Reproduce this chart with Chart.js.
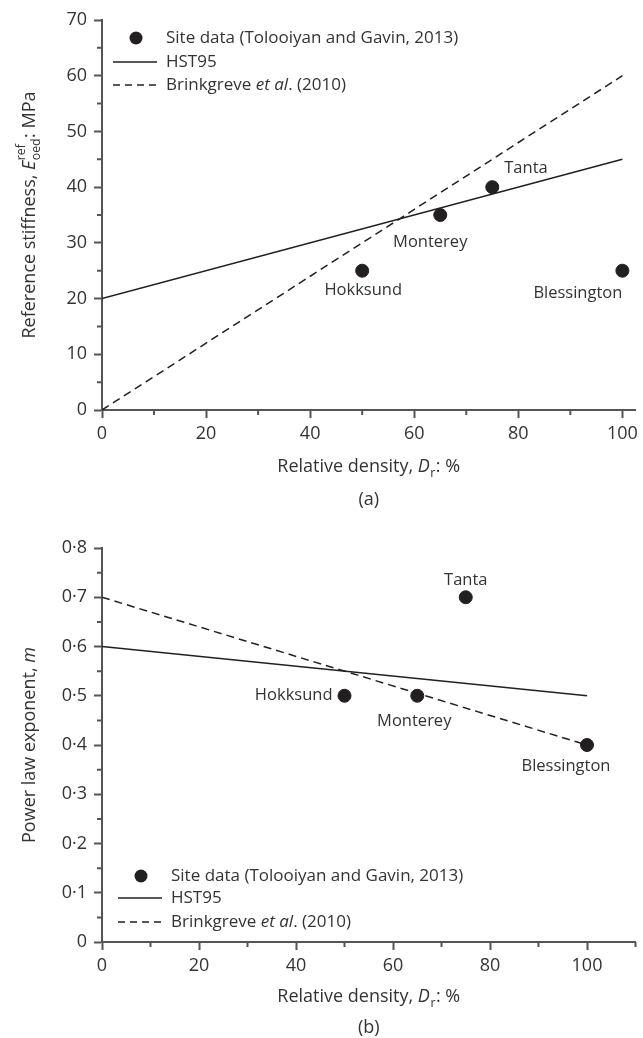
<!DOCTYPE html>
<html>
<head>
<meta charset="utf-8">
<script src="https://cdn.jsdelivr.net/npm/chart.js@4"></script>
<style>
body { margin: 0; background: #fff; }
canvas { display: block; }
</style>
</head>
<body>
<canvas id="chartA" width="643" height="520"></canvas>
<canvas id="chartB" width="643" height="518"></canvas>
<script>
// site data (Tolooiyan and Gavin, 2013)
var sites = ['Hokksund', 'Monterey', 'Tanta', 'Blessington'];
var siteDr = [50, 65, 75, 100];
var siteEref = [25, 35, 40, 25];
var siteM = [0.5, 0.5, 0.7, 0.4];
// model lines
var lineDr = [0, 100];
var hstEref = [20, 45];
var brinkEref = [0, 60];
var hstM = [0.6, 0.5];
var brinkM = [0.7, 0.4];

var FONT = '"Open Sans", sans-serif';
var TEXT = '#333';
var AXIS = '#555';
var INK = '#231f20';

function pts(xs, ys) {
    return xs.map(function (x, i) { return { x: x, y: ys[i] }; });
}

function fmtDot(v) {
    return v === 0 ? '0' : v.toFixed(1).replace('.', '·');
}

function fontStr(size, italic) {
    return (italic ? 'italic ' : '') + size + 'px ' + FONT;
}

// rich text: parts are {t, it} or {sub} or {sup, sub}
function partWidth(ctx, p, size) {
    if (p.t !== undefined) {
        ctx.font = fontStr(size, p.it);
        return ctx.measureText(p.t).width;
    }
    ctx.font = fontStr(size * 0.68, false);
    var w1 = p.sup ? ctx.measureText(p.sup).width : 0;
    var w2 = p.sub ? ctx.measureText(p.sub).width : 0;
    return Math.max(w1, w2) + 1;
}

function drawRich(ctx, parts, x, y, size, align) {
    var total = 0;
    parts.forEach(function (p) { total += partWidth(ctx, p, size); });
    var cx = align === 'center' ? x - total / 2 : (align === 'right' ? x - total : x);
    ctx.fillStyle = TEXT;
    ctx.textBaseline = 'middle';
    ctx.textAlign = 'left';
    parts.forEach(function (p) {
        var w = partWidth(ctx, p, size);
        if (p.t !== undefined) {
            ctx.font = fontStr(size, p.it);
            ctx.fillText(p.t, cx, y);
        } else {
            ctx.font = fontStr(size * 0.68, false);
            if (p.sup) ctx.fillText(p.sup, cx + 0.5, y - size * 0.45);
            if (p.sub) ctx.fillText(p.sub, cx + 0.5, y + size * 0.35);
        }
        cx += w;
    });
}

function figurePlugin(cfg) {
    return {
        id: 'figure',
        afterDraw: function (chart) {
            var ctx = chart.ctx;
            var area = chart.chartArea;
            var xs = chart.scales.x, ys = chart.scales.y;
            ctx.save();

            // minor ticks
            ctx.strokeStyle = AXIS;
            ctx.lineWidth = 2;
            ctx.beginPath();
            cfg.xMinor.forEach(function (v) {
                var px = xs.getPixelForValue(v);
                ctx.moveTo(px, area.bottom);
                ctx.lineTo(px, area.bottom + 5);
            });
            cfg.yMinor.forEach(function (v) {
                var py = ys.getPixelForValue(v);
                ctx.moveTo(area.left, py);
                ctx.lineTo(area.left - 5, py);
            });
            ctx.stroke();

            // site labels
            sites.forEach(function (name, i) {
                var lab = cfg.labels[i];
                var px = xs.getPixelForValue(siteDr[i]);
                var py = ys.getPixelForValue(cfg.site[i]);
                ctx.font = fontStr(16.5, false);
                ctx.fillStyle = TEXT;
                ctx.textAlign = lab.align;
                ctx.textBaseline = 'middle';
                ctx.fillText(name, px + lab.dx, py + lab.dy);
            });

            // legend
            var lg = cfg.legend;
            ctx.fillStyle = INK;
            ctx.beginPath();
            ctx.arc(lg.x + 23, lg.rows[0], 6.5, 0, Math.PI * 2);
            ctx.fill();
            ctx.strokeStyle = INK;
            ctx.lineWidth = 1.5;
            ctx.beginPath();
            ctx.moveTo(lg.x, lg.rows[1]);
            ctx.lineTo(lg.x + 44, lg.rows[1]);
            ctx.stroke();
            ctx.setLineDash([7, 5]);
            ctx.beginPath();
            ctx.moveTo(lg.x, lg.rows[2]);
            ctx.lineTo(lg.x + 46, lg.rows[2]);
            ctx.stroke();
            ctx.setLineDash([]);
            var tx = lg.x + 53;
            drawRich(ctx, [{ t: 'Site data (Tolooiyan and Gavin, 2013)' }], tx, lg.rows[0], 17, 'left');
            drawRich(ctx, [{ t: 'HST95' }], tx, lg.rows[1], 17, 'left');
            drawRich(ctx, [{ t: 'Brinkgreve ' }, { t: 'et al', it: true }, { t: '. (2010)' }], tx, lg.rows[2], 17, 'left');

            // axis titles
            var midX = (area.left + area.right) / 2;
            drawRich(ctx, [{ t: 'Relative density, ' }, { t: 'D', it: true }, { sub: 'r' }, { t: ': %' }],
                midX, cfg.xTitleY, 18, 'center');
            drawRich(ctx, [{ t: cfg.panel }], midX, cfg.panelY, 18, 'center');
            ctx.save();
            ctx.translate(30, (area.top + area.bottom) / 2);
            ctx.rotate(-Math.PI / 2);
            drawRich(ctx, cfg.yTitle, 0, 0, 18, 'center');
            ctx.restore();

            ctx.restore();
        }
    };
}

function makeChart(id, cfg) {
    return new Chart(document.getElementById(id), {
        type: 'scatter',
        data: {
            datasets: [
                { type: 'line', data: pts(lineDr, cfg.hst), borderColor: INK, borderWidth: 1.5, pointRadius: 0 },
                { type: 'line', data: pts(lineDr, cfg.brink), borderColor: INK, borderWidth: 1.5, borderDash: [8, 5], pointRadius: 0 },
                { data: pts(siteDr, cfg.site), backgroundColor: INK, borderColor: INK, pointRadius: 6.5, pointHoverRadius: 6.5 }
            ]
        },
        options: {
            responsive: false,
            animation: false,
            events: [],
            layout: { padding: cfg.padding },
            plugins: { legend: { display: false }, tooltip: { enabled: false } },
            scales: {
                x: {
                    type: 'linear', min: 0, max: cfg.xMax,
                    afterFit: function (s) { s.height = cfg.xAxisH; },
                    grid: { drawOnChartArea: false, tickLength: 8, tickWidth: 2, tickColor: AXIS },
                    border: { color: AXIS, width: 2 },
                    ticks: { stepSize: 20, includeBounds: false, padding: 5, maxRotation: 0, color: TEXT, font: { family: FONT, size: 18 } }
                },
                y: {
                    type: 'linear', min: 0, max: cfg.yMax,
                    afterFit: function (s) { s.width = 102 - cfg.padding.left; },
                    grid: { drawOnChartArea: false, tickLength: 8, tickWidth: 2, tickColor: AXIS },
                    border: { color: AXIS, width: 2 },
                    ticks: { stepSize: cfg.yStep, padding: 7, color: TEXT, font: { family: FONT, size: 18 }, callback: cfg.yFmt }
                }
            }
        },
        plugins: [figurePlugin(cfg)]
    });
}

makeChart('chartA', {
    site: siteEref, hst: hstEref, brink: brinkEref,
    xMax: 102.5, yMax: 70, yStep: 10,
    yFmt: function (v) { return String(v); },
    xMinor: [10, 30, 50, 70, 90], yMinor: [5, 15, 25, 35, 45, 55, 65],
    padding: { top: 20, left: 0, right: 6, bottom: 0 },
    xAxisH: 110,
    labels: [
        { align: 'center', dx: 1, dy: 20 },
        { align: 'center', dx: -10, dy: 27 },
        { align: 'left', dx: 12, dy: -19 },
        { align: 'right', dx: 0, dy: 23 }
    ],
    legend: { x: 113, rows: [38, 62, 85] },
    xTitleY: 467, panel: '(a)', panelY: 500,
    yTitle: [{ t: 'Reference stiffness, ' }, { t: 'E', it: true }, { sup: 'ref', sub: 'oed' }, { t: ': MPa' }]
});

makeChart('chartB', {
    site: siteM, hst: hstM, brink: brinkM,
    xMax: 110, yMax: 0.8, yStep: 0.1,
    yFmt: fmtDot,
    xMinor: [10, 30, 50, 70, 90, 110], yMinor: [0.05, 0.15, 0.25, 0.35, 0.45, 0.55, 0.65, 0.75],
    padding: { top: 28, left: 0, right: 7, bottom: 0 },
    xAxisH: 96,
    labels: [
        { align: 'right', dx: -12, dy: 0 },
        { align: 'center', dx: -3, dy: 26 },
        { align: 'center', dx: 0, dy: -17 },
        { align: 'center', dx: -21, dy: 21 }
    ],
    legend: { x: 118, rows: [356, 378, 402] },
    xTitleY: 477, panel: '(b)', panelY: 508,
    yTitle: [{ t: 'Power law exponent, ' }, { t: 'm', it: true }]
});
</script>
</body>
</html>
